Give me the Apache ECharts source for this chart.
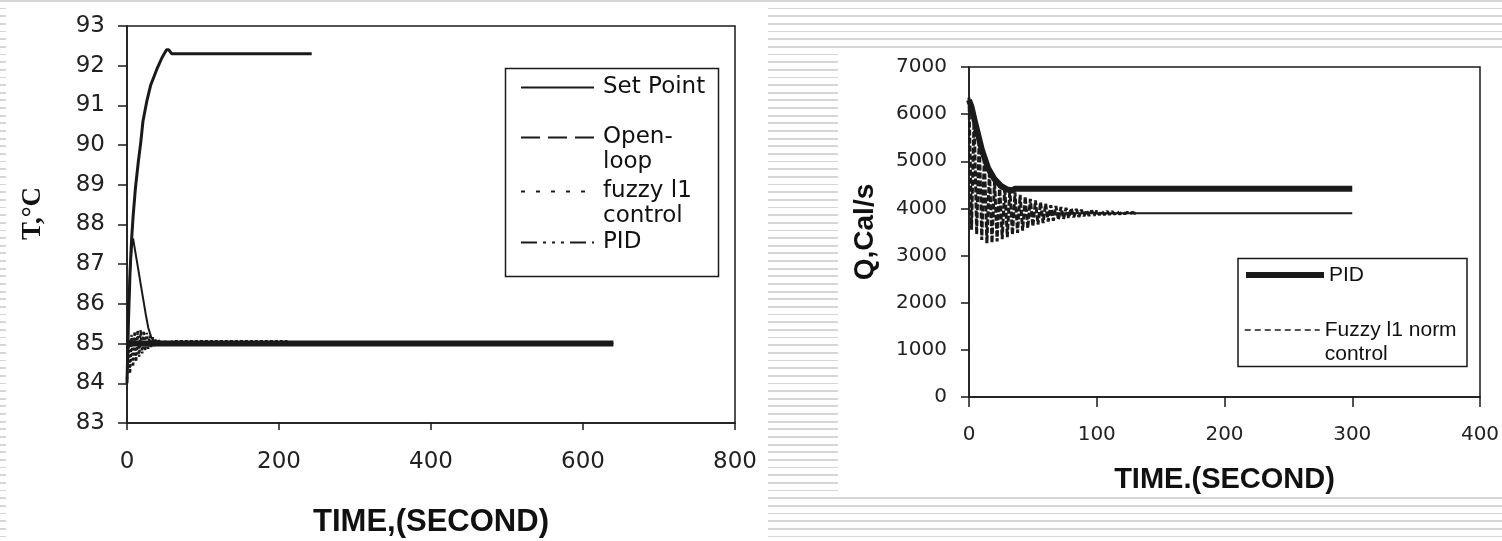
<!DOCTYPE html>
<html>
<head>
<meta charset="utf-8">
<script src="https://cdn.jsdelivr.net/npm/echarts@6/dist/echarts.min.js"></script>
<style>
  html, body { margin: 0; padding: 0; }
  body {
    width: 1502px; height: 541px; position: relative; overflow: hidden;
    background: repeating-linear-gradient(to bottom, #d6d6d6 0px, #d6d6d6 1.8px, #ffffff 1.8px, #ffffff 7.65px);
  }
  .panel { position: absolute; background: #ffffff; }
  #chart { position: absolute; left: 0; top: 0; width: 1502px; height: 541px; }
</style>
</head>
<body>
<div class="panel" style="left:6px;top:3px;width:762px;height:538px;"></div>
<div class="panel" style="left:838px;top:50px;width:664px;height:445px;"></div>
<div id="chart"></div>
<script>
// ---------- Left chart: temperature T (°C) vs time (s) ----------
const tempXTicks = [0, 200, 400, 600, 800];
const tempYTicks = [83, 84, 85, 86, 87, 88, 89, 90, 91, 92, 93];

const setPointTime = [0, 640];
const setPointTemp = [85, 85];

const openLoopTime = [0, 2, 4, 6, 8, 11, 15, 18, 21, 26, 31, 39, 46, 52, 55, 59, 243];
const openLoopTemp = [84.0, 85.6, 86.8, 87.6, 88.2, 88.9, 89.6, 90.05, 90.6, 91.1, 91.5, 91.9, 92.2, 92.4, 92.4, 92.3, 92.3];

const fuzzyTime = [0, 2, 4, 6, 8, 10, 12, 14, 16, 18, 20, 22, 24, 26, 28, 30, 32, 34, 36, 38, 40,
                   42, 44, 46, 48, 50, 52, 54, 56, 58, 60, 62, 210, 212, 640];
const fuzzyTemp = [84.1, 85.1, 84.25, 85.22, 84.42, 85.3, 84.55, 85.33, 84.67, 85.34, 84.75, 85.32, 84.82, 85.27, 84.87, 85.2, 84.91, 85.16, 84.94, 85.12, 84.96,
                   85.09, 84.97, 85.07, 84.98, 85.06, 84.99, 85.05, 85.0, 85.04, 85.02, 85.06, 85.06, 85.0, 85.0];

const pidTime = [0, 2, 4, 6, 8, 10.5, 15, 18, 21.5, 25, 28, 32, 36, 42, 50, 640];
const pidTemp = [84.6, 85.8, 86.8, 87.4, 87.65, 87.36, 86.85, 86.5, 86.1, 85.7, 85.4, 85.15, 85.06, 85.02, 85.0, 85.0];

// ---------- Right chart: heat duty Q (Cal/s) vs time (s) ----------
const heatXTicks = [0, 100, 200, 300, 400];
const heatYTicks = [0, 1000, 2000, 3000, 4000, 5000, 6000, 7000];

const pidQTime = [0, 2, 5, 10, 15, 20, 25, 30, 34, 36, 300];
const pidQ = [6300, 6150, 5800, 5250, 4850, 4620, 4480, 4400, 4380, 4420, 4420];

const fuzzyQTime = [0, 2, 4, 6, 8, 10, 12, 14, 16, 18, 20, 22, 24, 26, 28, 30, 32, 34, 36, 38, 40,
                    42, 44, 46, 48, 50, 52, 54, 56, 58, 60, 62, 64, 66, 68, 70, 72, 74, 76, 78, 80,
                    82, 84, 86, 88, 90, 92, 94, 96, 98, 100, 102, 104, 106, 108, 110, 112, 114, 116, 118, 120,
                    122, 124, 126, 128, 130, 132];
const fuzzyQ = [6350, 3550, 6000, 3450, 5550, 3330, 5100, 3260, 4800, 3270, 4600, 3300, 4500, 3350, 4460, 3390, 4420, 3440, 4340, 3480, 4290,
                3530, 4250, 3580, 4200, 3620, 4170, 3660, 4130, 3690, 4100, 3720, 4070, 3740, 4050, 3760, 4030, 3780, 4010, 3800, 4000,
                3810, 3990, 3820, 3970, 3835, 3960, 3845, 3955, 3850, 3950, 3860, 3945, 3865, 3940, 3870, 3935, 3875, 3930, 3880, 3925,
                3885, 3920, 3890, 3915, 3895, 3905];

const steadyQTime = [60, 300];
const steadyQ = [3900, 3900];

const zip = (xs, ys) => xs.map((x, i) => [x, ys[i]]);

const INK = '#1a1a1a';
const tickFont = 'DejaVu Sans';

function valueAxis(grid, ticks, o) {
  return Object.assign({
    type: 'value', gridIndex: grid,
    min: ticks[0], max: ticks[ticks.length - 1], interval: ticks[1] - ticks[0],
    splitLine: { show: false },
    axisLine: { show: true, onZero: false, lineStyle: { color: INK, width: 1.5 } },
    nameLocation: 'middle'
  }, o);
}

const plainNum = v => String(v);

function legendItem(name, left, top, o) {
  return Object.assign({
    show: true, data: [name], orient: 'vertical', left: left, top: top, padding: 0,
    itemWidth: 73, itemHeight: 10, selectedMode: false,
    itemStyle: { opacity: 0, color: 'transparent', borderWidth: 0 },
    textStyle: { color: '#111', fontFamily: 'DejaVu Sans', fontSize: 23, lineHeight: 25, padding: [0, 0, 0, 4] }
  }, o);
}

const chart = echarts.init(document.getElementById('chart'), null, { renderer: 'canvas' });
chart.setOption({
  animation: false,
  backgroundColor: 'transparent',
  grid: [
    { left: 127, top: 26, width: 608, height: 397, show: true, borderColor: INK, borderWidth: 1.5,
      containLabel: false, outerBoundsMode: 'none' },
    { left: 969, top: 67, width: 511, height: 330, show: true, borderColor: INK, borderWidth: 1.5,
      containLabel: false, outerBoundsMode: 'none' }
  ],
  xAxis: [
    valueAxis(0, tempXTicks, {
      axisTick: { show: true, length: 7, lineStyle: { color: INK, width: 1.5 } },
      axisLabel: { color: '#222', fontFamily: tickFont, fontSize: 23, margin: 28, formatter: plainNum },
      name: 'TIME,(SECOND)', nameGap: 84,
      nameTextStyle: { fontFamily: 'Liberation Sans', fontWeight: 'bold', fontSize: 31, color: '#111' }
    }),
    valueAxis(1, heatXTicks, {
      axisTick: { show: true, length: 10, lineStyle: { color: INK, width: 1.5 } },
      axisLabel: { color: '#222', fontFamily: tickFont, fontSize: 20, margin: 28, formatter: plainNum },
      name: 'TIME.(SECOND)', nameGap: 68,
      nameTextStyle: { fontFamily: 'Liberation Sans', fontWeight: 'bold', fontSize: 29, color: '#111' }
    })
  ],
  yAxis: [
    valueAxis(0, tempYTicks, {
      axisTick: { show: true, length: 9, lineStyle: { color: INK, width: 1.5 } },
      axisLabel: { color: '#222', fontFamily: tickFont, fontSize: 23, margin: 22, formatter: plainNum },
      name: 'T,°C', nameGap: 80, nameRotate: 90,
      nameTextStyle: { fontFamily: 'Liberation Serif', fontWeight: 'bold', fontSize: 27, color: '#111', padding: [0, 0, 0, 22] }
    }),
    valueAxis(1, heatYTicks, {
      axisTick: { show: true, length: 8, lineStyle: { color: INK, width: 1.5 } },
      axisLabel: { color: '#222', fontFamily: tickFont, fontSize: 20, margin: 22, formatter: plainNum },
      name: 'Q,Cal/s', nameGap: 90, nameRotate: 90,
      nameTextStyle: { fontFamily: 'Liberation Sans', fontWeight: 'bold', fontSize: 28, color: '#111' }
    })
  ],
  legend: [
    legendItem('Set Point', 520, 75, { lineStyle: { type: 'solid', width: 2, color: INK } }),
    legendItem('Open-loop', 520, 100, {
      lineStyle: { type: [19, 8], width: 2, color: INK },
      formatter: () => ' \nOpen-\nloop'
    }),
    legendItem('fuzzy l1 control', 520, 154, {
      lineStyle: { type: [4, 11], width: 2, color: INK },
      formatter: () => ' \nfuzzy l1\ncontrol'
    }),
    legendItem('PID', 520, 230, { lineStyle: { type: [16, 6, 3, 6, 3, 6, 3, 6], width: 2, color: INK } }),
    legendItem('PID ', 1243, 263, {
      itemWidth: 78, lineStyle: { type: 'solid', width: 6, color: INK },
      formatter: () => 'PID',
      textStyle: { color: '#111', fontFamily: 'Liberation Sans', fontSize: 21, lineHeight: 24, padding: [0, 0, 0, 0] }
    }),
    legendItem('Fuzzy l1 norm control', 1244, 294, {
      itemWidth: 75, lineStyle: { type: [6, 4], width: 1.5, color: INK },
      formatter: () => ' \nFuzzy l1 norm\ncontrol',
      textStyle: { color: '#111', fontFamily: 'Liberation Sans', fontSize: 21, lineHeight: 24, padding: [0, 0, 0, 0] }
    })
  ],
  graphic: [
    { type: 'rect', silent: true, z: 1, shape: { x: 505.5, y: 68.5, width: 213, height: 208 },
      style: { fill: '#fff', stroke: INK, lineWidth: 1.5 } },
    { type: 'rect', silent: true, z: 1, shape: { x: 1238, y: 258.5, width: 229, height: 108 },
      style: { fill: '#fff', stroke: INK, lineWidth: 1.5 } }
  ],
  series: [
    { name: 'Set Point', type: 'line', xAxisIndex: 0, yAxisIndex: 0, symbol: 'none',
      data: zip(setPointTime, setPointTemp), lineStyle: { color: INK, width: 6 }, itemStyle: { color: INK } },
    { name: 'Open-loop', type: 'line', xAxisIndex: 0, yAxisIndex: 0, symbol: 'none',
      data: zip(openLoopTime, openLoopTemp), lineStyle: { color: INK, width: 3 }, itemStyle: { color: INK } },
    { name: 'fuzzy l1 control', type: 'line', xAxisIndex: 0, yAxisIndex: 0, symbol: 'none',
      data: zip(fuzzyTime, fuzzyTemp), lineStyle: { color: INK, width: 2.5, type: [3, 2] }, itemStyle: { color: INK } },
    { name: 'PID', type: 'line', xAxisIndex: 0, yAxisIndex: 0, symbol: 'none',
      data: zip(pidTime, pidTemp), lineStyle: { color: INK, width: 2 }, itemStyle: { color: INK } },
    { name: 'PID ', type: 'line', xAxisIndex: 1, yAxisIndex: 1, symbol: 'none',
      data: zip(pidQTime, pidQ), lineStyle: { color: INK, width: 6 }, itemStyle: { color: INK } },
    { name: 'Fuzzy l1 norm control', type: 'line', xAxisIndex: 1, yAxisIndex: 1, symbol: 'none',
      data: zip(fuzzyQTime, fuzzyQ), lineStyle: { color: INK, width: 3, type: [6, 2] }, itemStyle: { color: INK } },
    { name: 'Fuzzy l1 norm control (steady state)', type: 'line', xAxisIndex: 1, yAxisIndex: 1, symbol: 'none',
      data: zip(steadyQTime, steadyQ), lineStyle: { color: INK, width: 2 }, itemStyle: { color: INK } }
  ]
});
</script>
</body>
</html>
